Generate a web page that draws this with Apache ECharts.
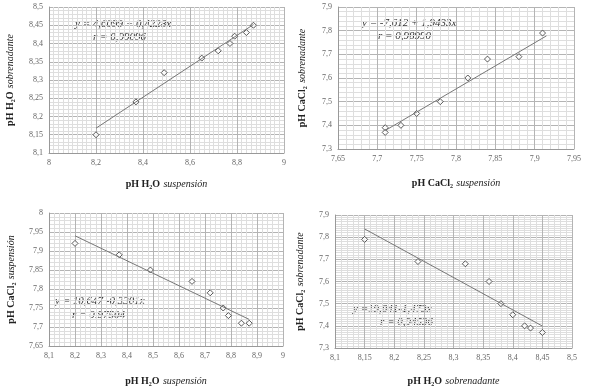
<!DOCTYPE html>
<html>
<head>
<meta charset="utf-8">
<script src="https://cdn.jsdelivr.net/npm/echarts@6/dist/echarts.min.js"></script>
<style>
  html, body { margin: 0; padding: 0; background: #fff; }
  #main { width: 589px; height: 388px; }
</style>
</head>
<body>
<div id="main"></div>
<script>
// datos
var x1 = [8.2, 8.37, 8.49, 8.65, 8.72, 8.77, 8.79, 8.84, 8.87];   // pH H2O suspension
var y1 = [8.15, 8.24, 8.32, 8.36, 8.38, 8.40, 8.42, 8.43, 8.45];  // pH H2O sobrenadante
var fit1 = [[8.2, 8.168], [8.87, 8.452]];

var x2 = [7.71, 7.71, 7.73, 7.75, 7.78, 7.815, 7.84, 7.88, 7.91]; // pH CaCl2 suspension
var y2 = [7.39, 7.37, 7.40, 7.45, 7.50, 7.60, 7.68, 7.69, 7.79];  // pH CaCl2 sobrenadante
var fit2 = [[7.71, 7.378], [7.915, 7.778]];

var x3 = [8.2, 8.37, 8.49, 8.65, 8.72, 8.77, 8.79, 8.84, 8.87];   // pH H2O suspension
var y3 = [7.92, 7.89, 7.85, 7.82, 7.79, 7.75, 7.73, 7.71, 7.71];  // pH CaCl2 suspension
var fit3 = [[8.2, 7.94], [8.87, 7.72]];

var x4 = [8.15, 8.24, 8.32, 8.36, 8.38, 8.40, 8.42, 8.43, 8.45];  // pH H2O sobrenadante
var y4 = [7.79, 7.69, 7.68, 7.60, 7.50, 7.45, 7.40, 7.39, 7.37];  // pH CaCl2 sobrenadante
var fit4 = [[8.15, 7.837], [8.45, 7.399]];

var ecuaciones = [
    ['y = 4,6099 + 0,4228x', 'r = 0,99096'],
    ['y = -7,612 + 1,9433x', 'r = 0,98990'],
    ['y = 10,647 -0,3301x', 'r = 0,97504'],
    ['y =19,841-1,473x', 'r = 0,94536']
];

var serif = '"Liberation Serif", "DejaVu Serif", serif';

function pares(xs, ys) {
    return xs.map(function (v, i) { return [v, ys[i]]; });
}

function coma(v) {
    return String(+v.toFixed(3)).replace('.', ',');
}

var rich = {
    b: { fontFamily: serif, fontWeight: 'bold', fontSize: 10, color: '#222' },
    i: { fontFamily: serif, fontStyle: 'italic', fontSize: 10, color: '#222' }
};

function eje(idx, min, max, interval, minorN, name, gap) {
    return {
        type: 'value',
        gridIndex: idx,
        min: min, max: max, interval: interval,
        name: name,
        nameLocation: 'middle',
        nameGap: gap,
        nameTextStyle: { rich: rich },
        axisLine: { show: true, lineStyle: { color: '#999' } },
        axisTick: { show: false },
        axisLabel: { fontFamily: serif, fontSize: 8, color: '#666', formatter: coma, margin: 6 },
        splitLine: { show: true, lineStyle: { color: '#b4b4b4', width: 1 } },
        minorTick: { show: false, splitNumber: minorN },
        minorSplitLine: { show: true, lineStyle: { color: '#dedede', width: 1 } }
    };
}

var chart = echarts.init(document.getElementById('main'));

var series = [];
[[x1, y1, fit1], [x2, y2, fit2], [x3, y3, fit3], [x4, y4, fit4]].forEach(function (d, i) {
    series.push({
        type: 'line',
        xAxisIndex: i, yAxisIndex: i,
        data: d[2],
        symbol: 'none',
        lineStyle: { color: '#777', width: 1 },
        silent: true
    });
    series.push({
        type: 'scatter',
        xAxisIndex: i, yAxisIndex: i,
        data: pares(d[0], d[1]),
        symbol: 'diamond',
        symbolSize: 6,
        itemStyle: { color: '#fff', borderColor: '#333', borderWidth: 1 }
    });
});

// posicion de las ecuaciones (x, y de cada linea)
var posTexto = [[75, 26, 93, 39], [362, 25, 378, 38], [55, 303, 72, 317], [353, 311, 380, 324]];
var graficos = [];
ecuaciones.forEach(function (e, i) {
    var p = posTexto[i];
    graficos.push({ type: 'text', left: p[0], top: p[1] - 7, style: { text: e[0], font: 'italic 11px ' + serif, fill: '#333' } });
    graficos.push({ type: 'text', left: p[2], top: p[3] - 7, style: { text: e[1], font: 'italic 11px ' + serif, fill: '#333' } });
});

option = {
    backgroundColor: '#fff',
    animation: false,
    grid: [
        { left: 49, top: 7, width: 235, height: 146 },
        { left: 338, top: 7, width: 236, height: 142 },
        { left: 49, top: 213, width: 234, height: 135 },
        { left: 335, top: 215, width: 237, height: 136 }
    ],
    xAxis: [
        eje(0, 8, 9, 0.2, 10, '{b|pH H₂O} {i|suspensión}', 25),
        eje(1, 7.65, 7.95, 0.05, 5, '{b|pH CaCl₂} {i|suspensión}', 28),
        eje(2, 8.1, 9, 0.1, 5, '{b|pH H₂O} {i|suspensión}', 29),
        eje(3, 8.1, 8.5, 0.05, 5, '{b|pH H₂O} {i|sobrenadante}', 27)
    ],
    yAxis: [
        eje(0, 8.1, 8.5, 0.05, 5, '{b|pH H₂O} {i|sobrenadante}', 33),
        eje(1, 7.3, 7.9, 0.1, 5, '{b|pH CaCl₂} {i|sobrenadante}', 30),
        eje(2, 7.65, 8, 0.05, 5, '{b|pH CaCl₂} {i|suspensión}', 32),
        eje(3, 7.3, 7.9, 0.1, 10, '{b|pH CaCl₂} {i|sobrenadante}', 29)
    ],
    graphic: graficos,
    series: series
};

chart.setOption(option);
</script>
</body>
</html>
